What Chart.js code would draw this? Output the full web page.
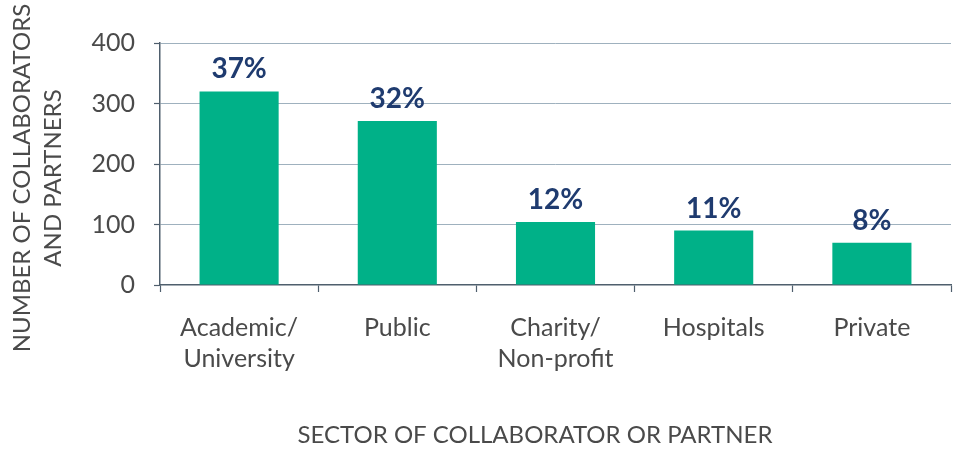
<!DOCTYPE html>
<html>
<head>
<meta charset="utf-8">
<script src="https://cdn.jsdelivr.net/npm/chart.js@4.4.1/dist/chart.umd.min.js"></script>
<style>
  html, body { margin: 0; padding: 0; background: #ffffff; }
  #wrap { position: relative; width: 960px; height: 449px; }
</style>
</head>
<body>
<div id="wrap"><canvas id="c" width="960" height="449"></canvas></div>
<script>
const categories = [['Academic/', 'University'], 'Public', ['Charity/', 'Non-profit'], 'Hospitals', 'Private'];
const counts = [320, 271, 104, 90, 70];
const shareLabels = ['37%', '32%', '12%', '11%', '8%'];
const yTicks = [0, 100, 200, 300, 400];
const xTitle = 'SECTOR OF COLLABORATOR OR PARTNER';
const yTitle = ['NUMBER OF COLLABORATORS', 'AND PARTNERS'];

const FONT = 'Lato, "Open Sans", sans-serif';
const AXIS = '#4f5f6d';
const TEXT = '#4a4a4a';

const barLabels = {
  id: 'barLabels',
  afterDatasetsDraw(chart) {
    const ctx = chart.ctx;
    const meta = chart.getDatasetMeta(0);
    ctx.save();
    ctx.font = 'bold 28px ' + FONT;
    ctx.fillStyle = '#1f3b6f';
    ctx.textAlign = 'center';
    ctx.textBaseline = 'alphabetic';
    meta.data.forEach((bar, i) => {
      ctx.fillText(shareLabels[i], bar.x, bar.y - 13);
    });
    ctx.restore();
  }
};

const axisTitles = {
  id: 'axisTitles',
  afterDraw(chart) {
    const ctx = chart.ctx;
    ctx.save();
    ctx.font = '24px ' + FONT;
    ctx.fillStyle = TEXT;
    ctx.textAlign = 'center';
    ctx.textBaseline = 'middle';
    ctx.fillText(xTitle, 535, 435);
    ctx.translate(0, 178);
    ctx.rotate(-Math.PI / 2);
    ctx.fillText(yTitle[0], 0, 22);
    ctx.fillText(yTitle[1], 0, 53);
    ctx.restore();
  }
};

new Chart(document.getElementById('c'), {
  type: 'bar',
  data: {
    labels: categories,
    datasets: [{
      data: counts,
      backgroundColor: '#00b188',
      borderWidth: 0,
      barPercentage: 0.5,
      categoryPercentage: 1.0
    }]
  },
  options: {
    responsive: false,
    animation: false,
    devicePixelRatio: 1,
    layout: { padding: { top: 43, right: 9, bottom: 0, left: 0 } },
    plugins: { legend: { display: false }, tooltip: { enabled: false } },
    scales: {
      x: {
        afterFit(scale) { scale.height = 164; },
        grid: {
          offset: true,
          drawOnChartArea: false,
          drawTicks: true,
          tickLength: 7,
          tickColor: AXIS,
          tickWidth: 1.2
        },
        border: { color: AXIS, width: 1.5 },
        ticks: {
          color: TEXT,
          font: { family: FONT, size: 25, lineHeight: 1.24 },
          padding: 20,
          maxRotation: 0,
          autoSkip: false
        }
      },
      y: {
        min: 0,
        max: 400,
        afterFit(scale) { scale.width = 160; },
        afterBuildTicks(scale) { scale.ticks = yTicks.map(v => ({ value: v })); },
        grid: {
          color: ctx => ctx.tick && ctx.tick.value === 0 ? 'rgba(0,0,0,0)' : '#9fb1be',
          borderDash: [2, 4],
          lineWidth: 1,
          drawTicks: true,
          tickLength: 6,
          tickColor: AXIS,
          tickBorderDash: [],
          tickWidth: 1.2
        },
        border: { color: AXIS, width: 1.5 },
        ticks: {
          color: TEXT,
          font: { family: FONT, size: 25 },
          padding: 19
        }
      }
    }
  },
  plugins: [barLabels, axisTitles]
});
</script>
</body>
</html>
